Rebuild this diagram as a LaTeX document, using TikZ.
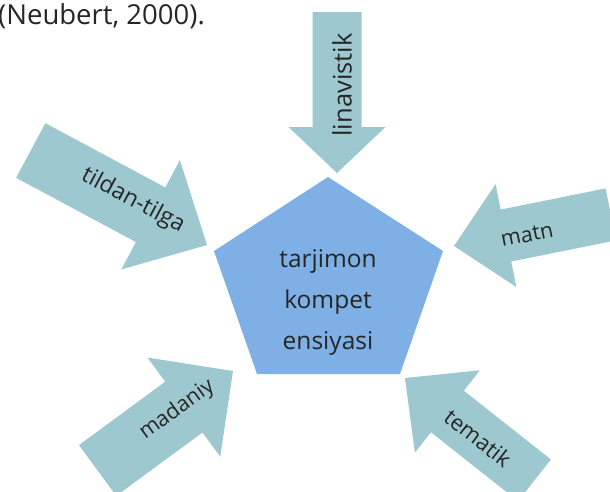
\documentclass[tikz,border=0pt]{standalone}
\usepackage{fontspec}
\setmainfont{Open Sans}
\definecolor{arrowcol}{HTML}{9DC8D0}
\definecolor{pentcol}{HTML}{7EB0E5}
\definecolor{txtcol}{HTML}{262626}
\newcommand\drawarrowshape[7]{%
  % #1,#2 tip (image px), #3 direction angle, #4 length, #5 shaft width, #6 head width, #7 head length
  \begin{scope}[shift={(#1,-#2)},rotate=#3]
    \fill[arrowcol] (0,0) -- (-#7,#6/2) -- (-#7,#5/2) -- (-#4,#5/2)
      -- (-#4,-#5/2) -- (-#7,-#5/2) -- (-#7,-#6/2) -- cycle;
  \end{scope}}
\begin{document}
\begin{tikzpicture}[x=1pt,y=1pt,
  lbl/.style={text=txtcol, inner sep=0pt},
  centertext/.style={text=txtcol, font=\fontsize{24.5}{41}\selectfont, align=center, inner sep=0pt}]
\useasboundingbox (0,0) rectangle (610,-491);
\clip (0,0) rectangle (610,-491);
\node[text=txtcol, font=\fontsize{27.5}{32}\selectfont, anchor=base west, inner sep=0pt] (cite) at (-2,-24) {(Neubert, 2000).};
% pentagon
\fill[pentcol] (328,-177) -- (443,-251) -- (400,-374) -- (257,-374) -- (214,-251) -- cycle;
\node[centertext] (center) at (328,-302) {tarjimon\\kompet\\ensiyasi};
% arrows
\drawarrowshape{337}{173}{-90}{161}{49}{97}{46}
\drawarrowshape{207}{245}{-28.2}{200}{62}{124}{64}
\drawarrowshape{454}{246}{191.4}{160}{53}{105}{53}
\drawarrowshape{233}{371}{36.3}{168}{63}{123}{61}
\drawarrowshape{405}{378}{141.7}{165}{53}{105}{54}
% labels
\node[lbl, rotate=90, font=\fontsize{25.5}{30}\selectfont] (ling) at (342,-85) {linavistik};
\node[lbl, rotate=-28, font=\fontsize{23}{28}\selectfont] (tild) at (133,-201) {tildan-tilga};
\node[lbl, rotate=11, font=\fontsize{21.5}{25}\selectfont] (matn) at (527,-235) {matn};
\node[lbl, rotate=36, font=\fontsize{21.5}{26}\selectfont] (mad) at (177,-410) {madaniy};
\node[lbl, rotate=-38, font=\fontsize{22}{26}\selectfont] (tem) at (478,-438) {tematik};
\end{tikzpicture}
\end{document}
